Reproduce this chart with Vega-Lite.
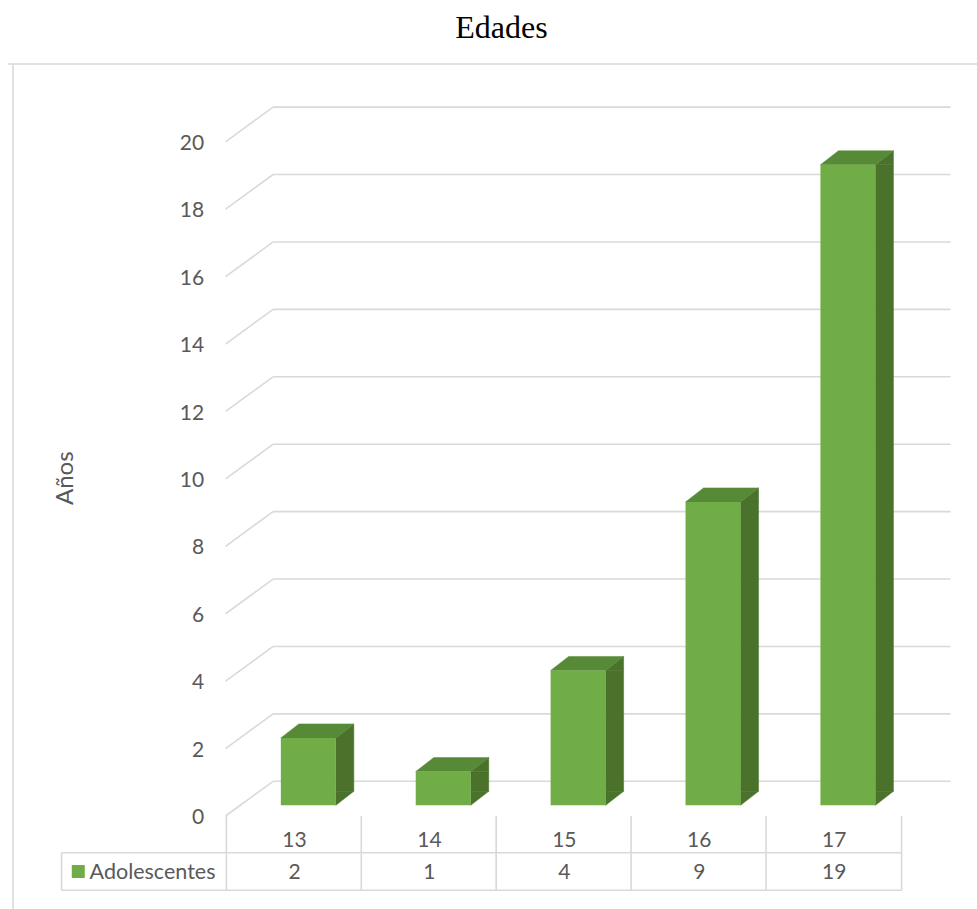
{
  "$schema": "https://vega.github.io/schema/vega-lite/v6.json",
  "width": 969,
  "height": 845,
  "autosize": {"type": "none"},
  "padding": {"left": 8, "top": 64, "right": 0, "bottom": 0},
  "background": "white",
  "config": {"view": {"stroke": null}, "font": "Lato"},
  "title": {"text": "Edades", "font": "Liberation Serif", "fontSize": 32, "fontWeight": "normal", "color": "#000000", "anchor": "middle", "dx": 9, "offset": 18},
  "datasets": {
    "edades": [
      {"edad": 13, "valor": 2},
      {"edad": 14, "valor": 1},
      {"edad": 15, "valor": 4},
      {"edad": 16, "valor": 9},
      {"edad": 17, "valor": 19}
    ],
    "grid": [{"v": 0}, {"v": 2}, {"v": 4}, {"v": 6}, {"v": 8}, {"v": 10}, {"v": 12}, {"v": 14}, {"v": 16}, {"v": 18}, {"v": 20}],
    "series": [{"serie": "Adolescentes"}],
    "ejes": [{"titulo": "Años"}],
    "one": [{}]
  },
  "data": {"name": "edades"},
  "layer": [
    {
      "data": {"name": "one"},
      "mark": {"type": "rule", "color": "#d9d9d9", "strokeWidth": 1.5},
      "encoding": {
        "x": {"datum": 10.913, "type": "quantitative", "scale": {"domain": [10.913, 18.022], "nice": false, "zero": false}, "axis": null}
      }
    },
    {
      "data": {"name": "one"},
      "mark": {"type": "rule", "color": "#d9d9d9", "strokeWidth": 1.5},
      "encoding": {
        "y": {"datum": 21.99, "type": "quantitative", "scale": {"domain": [-3.076, 21.99], "nice": false, "zero": false}, "axis": null}
      }
    },
    {
      "data": {"name": "grid"},
      "mark": {"type": "rule", "color": "#d9d9d9", "strokeWidth": 1.6, "xOffset": -1.5, "yOffset": 10.7, "y2Offset": -24, "x2Offset": 46},
      "encoding": {
        "x": {"datum": 12.5, "type": "quantitative", "scale": {"domain": [10.913, 18.022], "nice": false, "zero": false}, "axis": null},
        "x2": {"datum": 12.5},
        "y": {"field": "v", "type": "quantitative", "scale": {"domain": [-3.076, 21.99], "nice": false, "zero": false}, "axis": null},
        "y2": {"field": "v"}
      }
    },
    {
      "data": {"name": "grid"},
      "mark": {"type": "rule", "color": "#d9d9d9", "strokeWidth": 1.6, "xOffset": 46, "x2Offset": 49, "yOffset": -24},
      "encoding": {
        "x": {"datum": 12.5, "type": "quantitative", "scale": {"domain": [10.913, 18.022], "nice": false, "zero": false}, "axis": null},
        "x2": {"datum": 17.5},
        "y": {"field": "v", "type": "quantitative", "scale": {"domain": [-3.076, 21.99], "nice": false, "zero": false}, "axis": null}
      }
    },
    {
      "data": {"name": "grid"},
      "mark": {"type": "text", "align": "right", "baseline": "middle", "xOffset": -23, "yOffset": 12.8, "fontSize": 21, "color": "#595959"},
      "encoding": {
        "x": {"datum": 12.5, "type": "quantitative", "scale": {"domain": [10.913, 18.022], "nice": false, "zero": false}, "axis": null},
        "y": {"field": "v", "type": "quantitative", "scale": {"domain": [-3.076, 21.99], "nice": false, "zero": false}, "axis": null},
        "text": {"field": "v", "type": "quantitative"}
      }
    },
    {
      "data": {"name": "ejes"},
      "mark": {"type": "text", "align": "center", "baseline": "middle", "angle": 270, "xOffset": -161, "yOffset": 10, "fontSize": 24, "color": "#595959"},
      "encoding": {
        "x": {"datum": 12.5, "type": "quantitative", "scale": {"domain": [10.913, 18.022], "nice": false, "zero": false}, "axis": null},
        "y": {"datum": 10, "type": "quantitative", "scale": {"domain": [-3.076, 21.99], "nice": false, "zero": false}, "axis": null},
        "text": {"field": "titulo", "type": "nominal"}
      }
    },
    {
      "mark": {"type": "rule", "color": "#d9d9d9", "strokeWidth": 1.6, "xOffset": -68.15, "yOffset": 10.7, "y2Offset": 85},
      "encoding": {
        "x": {"field": "edad", "type": "quantitative", "scale": {"domain": [10.913, 18.022], "nice": false, "zero": false}, "axis": null},
        "y": {"datum": 0, "type": "quantitative", "scale": {"domain": [-3.076, 21.99], "nice": false, "zero": false}, "axis": null},
        "y2": {"datum": 0}
      }
    },
    {
      "data": {"name": "one"},
      "mark": {"type": "rule", "color": "#d9d9d9", "strokeWidth": 1.6, "yOffset": 10.7, "y2Offset": 85},
      "encoding": {
        "x": {"datum": 17.5, "type": "quantitative", "scale": {"domain": [10.913, 18.022], "nice": false, "zero": false}, "axis": null},
        "y": {"datum": 0, "type": "quantitative", "scale": {"domain": [-3.076, 21.99], "nice": false, "zero": false}, "axis": null},
        "y2": {"datum": 0}
      }
    },
    {
      "data": {"name": "one"},
      "mark": {"type": "rule", "color": "#d9d9d9", "strokeWidth": 1.6, "xOffset": -165.5, "yOffset": 47.4, "y2Offset": 85},
      "encoding": {
        "x": {"datum": 12.5, "type": "quantitative", "scale": {"domain": [10.913, 18.022], "nice": false, "zero": false}, "axis": null},
        "y": {"datum": 0, "type": "quantitative", "scale": {"domain": [-3.076, 21.99], "nice": false, "zero": false}, "axis": null},
        "y2": {"datum": 0}
      }
    },
    {
      "data": {"name": "one"},
      "mark": {"type": "rule", "color": "#d9d9d9", "strokeWidth": 1.6, "xOffset": -165.5, "yOffset": 47.4},
      "encoding": {
        "x": {"datum": 12.5, "type": "quantitative", "scale": {"domain": [10.913, 18.022], "nice": false, "zero": false}, "axis": null},
        "x2": {"datum": 17.5},
        "y": {"datum": 0, "type": "quantitative", "scale": {"domain": [-3.076, 21.99], "nice": false, "zero": false}, "axis": null}
      }
    },
    {
      "data": {"name": "one"},
      "mark": {"type": "rule", "color": "#d9d9d9", "strokeWidth": 1.6, "xOffset": -165.5, "yOffset": 85},
      "encoding": {
        "x": {"datum": 12.5, "type": "quantitative", "scale": {"domain": [10.913, 18.022], "nice": false, "zero": false}, "axis": null},
        "x2": {"datum": 17.5},
        "y": {"datum": 0, "type": "quantitative", "scale": {"domain": [-3.076, 21.99], "nice": false, "zero": false}, "axis": null}
      }
    },
    {
      "mark": {"type": "text", "align": "center", "baseline": "alphabetic", "yOffset": 41.6, "fontSize": 21, "color": "#595959"},
      "encoding": {
        "x": {"field": "edad", "type": "quantitative", "scale": {"domain": [10.913, 18.022], "nice": false, "zero": false}, "axis": null},
        "y": {"datum": 0, "type": "quantitative", "scale": {"domain": [-3.076, 21.99], "nice": false, "zero": false}, "axis": null},
        "text": {"field": "edad", "type": "nominal"}
      }
    },
    {
      "mark": {"type": "text", "align": "center", "baseline": "alphabetic", "yOffset": 73.4, "fontSize": 21, "color": "#595959"},
      "encoding": {
        "x": {"field": "edad", "type": "quantitative", "scale": {"domain": [10.913, 18.022], "nice": false, "zero": false}, "axis": null},
        "y": {"datum": 0, "type": "quantitative", "scale": {"domain": [-3.076, 21.99], "nice": false, "zero": false}, "axis": null},
        "text": {"field": "valor", "type": "quantitative"}
      }
    },
    {
      "data": {"name": "series"},
      "mark": {"type": "point", "shape": "square", "size": 169, "filled": true, "opacity": 1, "color": "#70ad47", "xOffset": -148.8, "yOffset": 66.2},
      "encoding": {
        "x": {"datum": 12.5, "type": "quantitative", "scale": {"domain": [10.913, 18.022], "nice": false, "zero": false}, "axis": null},
        "y": {"datum": 0, "type": "quantitative", "scale": {"domain": [-3.076, 21.99], "nice": false, "zero": false}, "axis": null}
      }
    },
    {
      "data": {"name": "series"},
      "mark": {"type": "text", "align": "left", "baseline": "alphabetic", "xOffset": -137.5, "yOffset": 73.4, "fontSize": 21.5, "color": "#595959"},
      "encoding": {
        "x": {"datum": 12.5, "type": "quantitative", "scale": {"domain": [10.913, 18.022], "nice": false, "zero": false}, "axis": null},
        "y": {"datum": 0, "type": "quantitative", "scale": {"domain": [-3.076, 21.99], "nice": false, "zero": false}, "axis": null},
        "text": {"field": "serie", "type": "nominal"}
      }
    },
    {
      "mark": {"type": "bar", "width": 18, "xOffset": 50.3, "y2Offset": -14, "color": "#4a722b", "stroke": "#4a722b", "strokeWidth": 0.5},
      "encoding": {
        "x": {"field": "edad", "type": "quantitative", "scale": {"domain": [10.913, 18.022], "nice": false, "zero": false}, "axis": null},
        "y": {"field": "valor", "type": "quantitative", "scale": {"domain": [-3.076, 21.99], "nice": false, "zero": false}, "axis": null},
        "y2": {"datum": 0}
      }
    },
    {
      "mark": {"type": "point", "shape": "M27.5,-14L27.5,0L45.5,-14Z", "size": 4, "filled": true, "opacity": 1, "fill": "#4a722b", "stroke": "#4a722b", "strokeWidth": 0.5, "xOffset": 13.8},
      "encoding": {
        "x": {"field": "edad", "type": "quantitative", "scale": {"domain": [10.913, 18.022], "nice": false, "zero": false}, "axis": null},
        "y": {"datum": 0, "type": "quantitative", "scale": {"domain": [-3.076, 21.99], "nice": false, "zero": false}, "axis": null}
      }
    },
    {
      "mark": {"type": "point", "shape": "M27.5,0L45.5,-14L45.5,0Z", "size": 4, "filled": true, "opacity": 1, "fill": "#4a722b", "stroke": "#4a722b", "strokeWidth": 0.5, "xOffset": 13.8},
      "encoding": {
        "x": {"field": "edad", "type": "quantitative", "scale": {"domain": [10.913, 18.022], "nice": false, "zero": false}, "axis": null},
        "y": {"field": "valor", "type": "quantitative", "scale": {"domain": [-3.076, 21.99], "nice": false, "zero": false}, "axis": null}
      }
    },
    {
      "mark": {"type": "point", "shape": "M-27.5,0L-9.5,-14L45.5,-14L27.5,0Z", "size": 4, "filled": true, "opacity": 1, "fill": "#578a36", "stroke": "#578a36", "strokeWidth": 0.5, "xOffset": 13.8},
      "encoding": {
        "x": {"field": "edad", "type": "quantitative", "scale": {"domain": [10.913, 18.022], "nice": false, "zero": false}, "axis": null},
        "y": {"field": "valor", "type": "quantitative", "scale": {"domain": [-3.076, 21.99], "nice": false, "zero": false}, "axis": null}
      }
    },
    {
      "mark": {"type": "bar", "width": 55, "xOffset": 13.8, "color": "#70ad47"},
      "encoding": {
        "x": {"field": "edad", "type": "quantitative", "scale": {"domain": [10.913, 18.022], "nice": false, "zero": false}, "axis": null},
        "y": {"field": "valor", "type": "quantitative", "scale": {"domain": [-3.076, 21.99], "nice": false, "zero": false}, "axis": null},
        "y2": {"datum": 0}
      }
    }
  ]
}
